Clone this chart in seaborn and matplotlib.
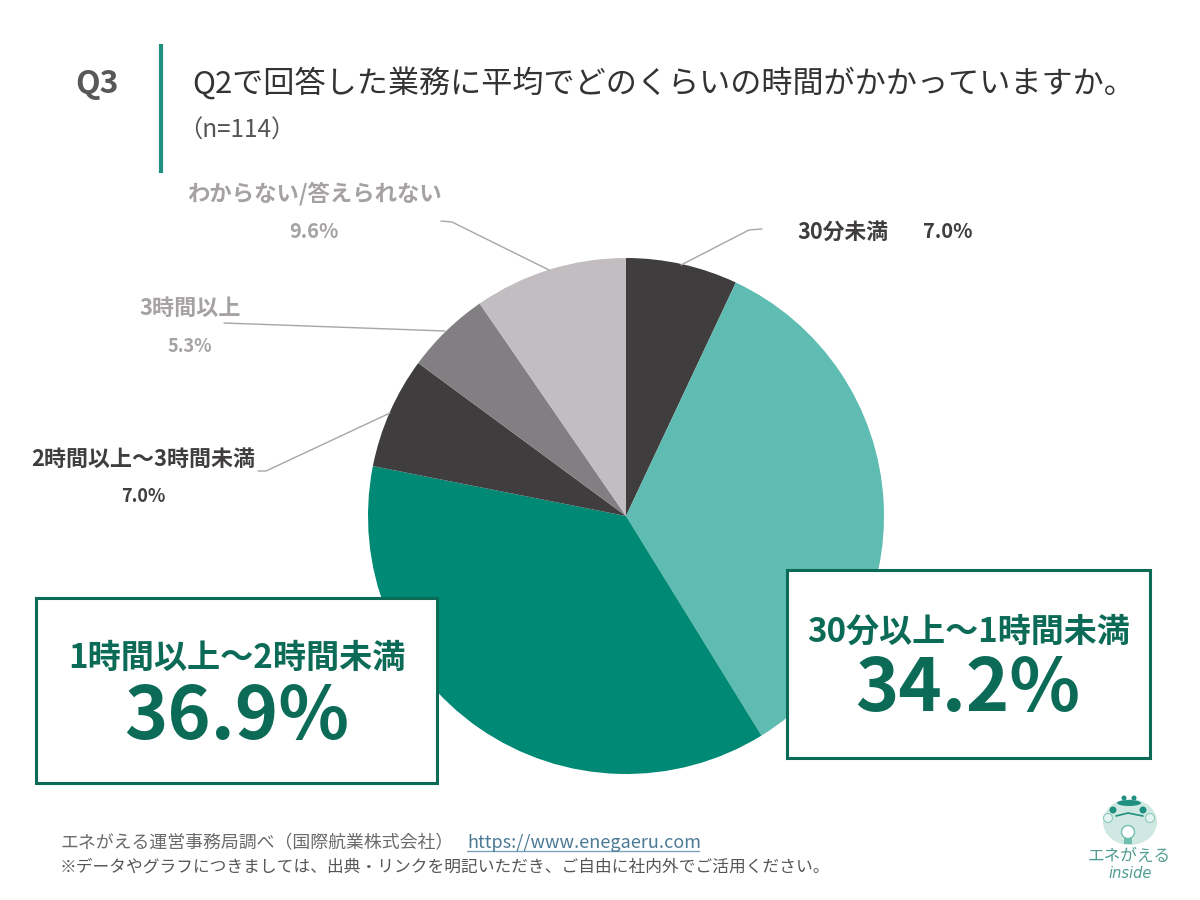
import matplotlib
matplotlib.use("Agg")
import matplotlib.pyplot as plt
from matplotlib.patches import Circle, Ellipse, Rectangle
import seaborn as sns

sns.set_theme(style="white")
plt.rcParams['font.family'] = ['Noto Sans CJK JP', 'DejaVu Sans']

categories = ["30分未満", "30分以上～1時間未満", "1時間以上～2時間未満",
              "2時間以上～3時間未満", "3時間以上", "わからない/答えられない"]
values = [7.0, 34.2, 36.9, 7.0, 5.3, 9.6]
value_labels = ["7.0%", "34.2%", "36.9%", "7.0%", "5.3%", "9.6%"]
colors = ["#403d3f", "#5fbcb2", "#008a75", "#403d3f", "#827f82", "#c1bdc0"]

title = "Q2で回答した業務に平均でどのくらいの時間がかかっていますか。"
note = "（n=114）"
source = "エネがえる運営事務局調べ（国際航業株式会社）"
url = "https://www.enegaeru.com"
footnote = "※データやグラフにつきましては、出典・リンクを明記いただき、ご自由に社内外でご活用ください。"

dark = "#403d3f"
grey = "#a5a1a4"
green = "#0b6b57"
line = "#a8a5a7"

fig = plt.figure(figsize=(12, 9), dpi=100, facecolor="white")

# pie axes, pixel box of the circle
ax = fig.add_axes([368 / 1200, 1 - 774 / 900, 516 / 1200, 516 / 900])
ax.pie(values, colors=sns.color_palette(colors), startangle=90, counterclock=False,
       radius=1, wedgeprops={"linewidth": 0})
ax.set_xlim(-1, 1)
ax.set_ylim(-1, 1)

# overlay in pixel coordinates for the texts and boxes
ov = fig.add_axes([0, 0, 1, 1], zorder=5)
ov.set_xlim(0, 1200)
ov.set_ylim(900, 0)
ov.axis("off")
ov.patch.set_alpha(0)

# header
ov.text(97, 84, "Q3", size=23, color="#595757", weight="bold", ha="center", va="center")
ov.plot([160.5, 160.5], [44, 173], color="#1f9080", lw=3, solid_capstyle="butt")
ov.text(192, 83, title, size=22.4, color="#333333", ha="left", va="center")
ov.text(178, 131, note, size=17.5, color="#555555", ha="left", va="center")

# leader lines
ov.plot([681, 749, 762], [265, 230, 229], color=line, lw=1)
ov.plot([549, 452, 441], [270, 222, 221], color=line, lw=1)
ov.plot([445, 224], [331, 323], color=line, lw=1)
ov.plot([390, 266, 258], [413, 471, 471], color=line, lw=1)

# small labels
ov.text(843, 232, categories[0], size=15.7, color=dark, weight="bold", ha="center", va="center")
ov.text(948, 232, value_labels[0], size=14.5, color=dark, weight="bold", ha="center", va="center")
ov.text(314, 194, categories[5], size=16.1, color=grey, weight="bold", ha="center", va="center")
ov.text(314, 231, value_labels[5], size=14.5, color=grey, weight="bold", ha="center", va="center")
ov.text(190, 308, categories[4], size=15.9, color=grey, weight="bold", ha="center", va="center")
ov.text(190, 346, value_labels[4], size=13, color=grey, weight="bold", ha="center", va="center")
ov.text(143, 459, categories[3], size=15.8, color=dark, weight="bold", ha="center", va="center")
ov.text(143, 497, value_labels[3], size=13, color=dark, weight="bold", ha="center", va="center")

# callout boxes
ov.add_patch(Rectangle((36, 598), 401, 185, fc="white", ec=green, lw=2.2))
ov.text(237, 658, categories[2], size=23.9, color=green, weight="bold", ha="center", va="center")
ov.text(237, 718, value_labels[2], size=53, color=green, weight="bold", ha="center", va="center")
ov.add_patch(Rectangle((787, 570), 363, 188, fc="white", ec=green, lw=2.2))
ov.text(968, 632, categories[1], size=23.8, color=green, weight="bold", ha="center", va="center")
ov.text(968, 690, value_labels[1], size=53, color=green, weight="bold", ha="center", va="center")

# footer
ov.text(60, 843, source, size=12.9, color="#6b6b6b", ha="left", va="center")
ov.text(467, 843, url, size=13, color="#4a7a96", ha="left", va="center")
ov.plot([467, 699], [851, 851], color="#7ba3bb", lw=1)
ov.text(60, 867, footnote, size=12.03, color="#555555", ha="left", va="center")

# logo
ov.add_patch(Ellipse((1130, 822), 54, 46, fc="#cfe9e2", ec="none"))
ov.add_patch(Ellipse((1129, 803), 24, 6, fc="#1f9080", ec="none"))
ov.add_patch(Circle((1124, 798), 2.5, fc="#1f9080", ec="none"))
ov.add_patch(Circle((1134, 798), 2.5, fc="#1f9080", ec="none"))
ov.add_patch(Circle((1113, 810), 3.5, fc="#1f9080", ec="none"))
ov.add_patch(Circle((1143, 810), 3.5, fc="#1f9080", ec="none"))
ov.add_patch(Circle((1108, 818), 4.5, fc="#e6f4f0", ec="#8cc9bb", lw=0.8))
ov.add_patch(Circle((1150, 818), 4.5, fc="#e6f4f0", ec="#8cc9bb", lw=0.8))
ov.plot([1116, 1128, 1143], [816, 813, 816], color="#1f9080", lw=1.2)
ov.add_patch(Circle((1128, 832), 6.5, fc="white", ec="#6fbfae", lw=1))
ov.add_patch(Rectangle((1124, 838), 8, 6, fc="#6fbfae", ec="none"))
ov.text(1129, 856, "エネがえる", size=12, color="#4f9c90", ha="center", va="center")
ov.text(1130, 874, "inside", size=10.5, color="#4f9c90", style="italic",
        ha="center", va="center", family="DejaVu Sans")

fig.savefig("out.png", dpi=100)
